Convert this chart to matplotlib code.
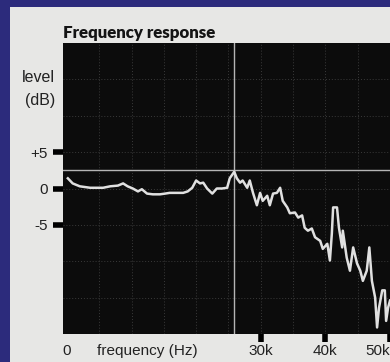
import matplotlib.pyplot as plt
from matplotlib.patches import Rectangle

# frequency response (kHz, dB)
freq_khz = [0.15, 0.9, 2.0, 3.6, 5.6, 6.7, 7.9, 8.7, 9.4, 10.2, 11.0, 11.6, 12.4,
            13.3, 14.4, 15.2, 15.9, 17.0, 18.0, 18.7, 19.4, 20.0, 20.6, 21.1, 21.7,
            22.5, 23.2, 24.0, 24.8, 25.2, 25.9, 26.3, 26.8, 27.2, 27.9, 28.3, 28.8,
            29.4, 29.9, 30.3, 31.0, 31.4, 31.9, 32.5, 33.0, 33.4, 34.1, 34.5, 35.3,
            35.8, 36.4, 36.8, 37.3, 37.9, 38.4, 39.2, 39.6, 40.3, 40.7, 41.0, 41.2,
            41.8, 42.1, 42.6, 42.7, 43.3, 43.8, 44.3, 44.9, 45.4, 45.8, 46.4, 46.8,
            47.2, 47.7, 48.0, 48.3, 48.8, 49.2, 49.4, 49.7, 50.0]
level_db = [1.4, 0.7, 0.3, 0.1, 0.1, 0.3, 0.4, 0.7, 0.3, 0.0, -0.4, -0.1, -0.7,
            -0.8, -0.8, -0.7, -0.6, -0.6, -0.6, -0.4, 0.1, 1.1, 0.7, 0.8, 0.0,
            -0.7, 0.0, 0.0, 0.1, 1.4, 2.3, 1.4, 0.8, 1.1, 0.1, 1.1, -0.6,
            -2.3, -0.6, -1.7, -1.0, -2.3, -0.7, -0.6, 0.1, -1.7, -2.6, -3.4, -3.3,
            -4.0, -3.7, -5.4, -5.8, -5.5, -6.7, -7.2, -8.3, -7.6, -9.9, -6.2, -2.6,
            -2.6, -5.4, -8.1, -5.8, -9.5, -11.3, -8.1, -10.3, -11.3, -12.7, -11.3, -8.1,
            -12.7, -15.0, -19.1, -16.4, -14.0, -14.0, -18.2, -16.4, -15.4]

x_ticks = [0, 30, 40, 50]
x_labels = ["0", "30k", "40k", "50k"]
y_ticks = [-5, 0, 5]
y_labels = ["-5", "0", "+5"]
marker_khz = 25.8
ref_db = 2.6

plt.rcParams["font.family"] = ["Liberation Sans", "DejaVu Sans"]

fig = plt.figure(figsize=(3.9, 3.62), dpi=100)
fig.patch.set_facecolor("#2c2b7c")
# light panel inside the blue border
fig.patches.append(Rectangle((10 / 390, 0), 1, (362 - 7) / 362,
                             transform=fig.transFigure, facecolor="#e7e7e5",
                             edgecolor="none", zorder=-5))

ax = fig.add_axes([63 / 390, 28 / 362, 327 / 390, 291 / 362])
ax.set_zorder(1)
ax.set_facecolor("#0c0c0c")
for s in ax.spines.values():
    s.set_visible(False)

ax.set_xlim(-0.6, 50)
ax.set_ylim(-20, 20)

# faint grid
for gx in range(5, 50, 5):
    ax.axvline(gx, color="#3a3a3a", lw=0.7, ls=(0, (1, 2)), zorder=1)
for gy in range(-15, 20, 5):
    ax.axhline(gy, color="#3a3a3a", lw=0.7, ls=(0, (1, 2)), zorder=1)

# reference lines
ax.axvline(marker_khz, color="#b5b5b5", lw=1.0, zorder=2)
ax.axhline(ref_db, color="#b5b5b5", lw=1.0, zorder=2)

ax.plot(freq_khz, level_db, color="#e0e0e0", lw=1.8, zorder=3)

ax.set_yticks(y_ticks)
ax.set_yticklabels(y_labels)
ax.set_xticks(x_ticks)
ax.set_xticklabels(x_labels)
ax.tick_params(axis="both", direction="out", width=4, color="black",
               labelsize=11, labelcolor="#222222")
ax.tick_params(axis="y", length=7, pad=4)
ax.tick_params(axis="x", length=6, pad=1.5)
ax.xaxis.get_major_ticks()[0].tick1line.set_visible(False)
ax.get_xticklabels()[-1].set_ha("right")

fig.text(97 / 390, 1 - 351 / 362, "frequency (Hz)", ha="left", va="center",
         fontsize=11, color="#222222")
fig.text(55 / 390, 1 - 78 / 362, "level", ha="right", va="center",
         fontsize=11.5, color="#222222")
fig.text(55 / 390, 1 - 100 / 362, "(dB)", ha="right", va="center",
         fontsize=11.5, color="#222222")
fig.text(63 / 390, 1 - 33 / 362, "Frequency response", ha="left", va="center",
         fontsize=12.2, fontweight="heavy", family=["Lato", "DejaVu Sans"],
         color="#141414")

fig.savefig("out.png", dpi=100, facecolor=fig.get_facecolor())
